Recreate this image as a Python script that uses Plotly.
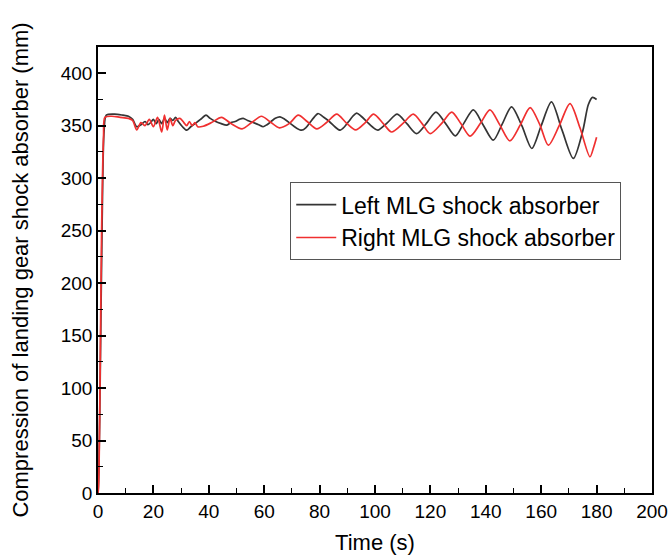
import plotly.graph_objects as go

# Left MLG shock absorber (black)
left_t = [0, 0.3, 0.8, 1.5, 2.2, 3, 6, 9, 11, 12.5, 14, 15.5, 17, 18, 19, 20, 21, 22, 23, 24,
          25, 26, 27, 28, 29, 30.5, 32, 33.5, 35.5, 37, 39, 40.5, 42.5, 44.5, 46.4, 48, 49.5,
          51, 52.4, 54, 56, 58, 59.6, 61, 62.5, 64, 65.7, 67.5, 69.5, 71.5, 73.5, 75, 76.5,
          78, 79.4, 81.5, 83.5, 85.5, 87.4, 89, 90.5, 92, 93.4, 95, 97, 99, 101, 104.5, 108,
          111.5, 115, 118.5, 122, 125.5, 129, 132, 135.5, 139, 142.7, 146, 149.3, 153, 156.6,
          160, 163.7, 167.5, 171.6, 175, 177, 178.5, 180]
left_v = [0, 20, 110, 260, 345, 360, 361, 360, 359, 356, 349, 351, 354, 351, 353, 356, 352,
          356, 352, 357, 353, 357, 355, 358, 354, 349, 345.7, 349, 353, 356, 360, 357, 354,
          352, 350.5, 353, 354, 356, 357, 355, 353, 351, 349, 351, 354, 357, 358.4, 356, 352,
          348, 345.7, 348, 353, 358, 361.6, 358, 354, 349, 345.7, 349, 354, 359, 362, 359,
          354, 349, 345.7, 353, 361, 352, 342.5, 352, 363, 352, 340.3, 352, 365, 351, 336.2,
          352, 368, 350, 328.3, 350, 372.7, 346, 318.8, 345, 370, 377, 375]

# Right MLG shock absorber (red)
right_t = [0, 0.2, 0.7, 1.3, 2.0, 2.5, 5, 8, 11, 12.5, 14, 15.5, 17, 18.5, 20, 21.5, 23,
           24, 25, 26, 27, 28, 29.6, 31, 32, 33, 34, 35, 36, 38, 41, 44.6, 48, 52, 55.5, 59,
           62, 65.5, 69, 72.3, 75.5, 79, 82.5, 86.2, 89.5, 93, 96.5, 99.5, 103, 106, 110,
           113.8, 117, 119.9, 124, 127.7, 131, 134.3, 138, 141.5, 145, 148.7, 152.5, 156,
           159.5, 162.6, 166.5, 170.4, 174, 177.6, 179, 180]
right_v = [0, 5, 95, 250, 340, 358, 359, 358, 357, 355, 346, 353, 350, 356, 349, 358, 344,
           360, 346, 357, 350, 355, 357, 353, 350, 354, 350, 353, 349, 349.5, 353, 358, 352,
           347, 353, 359, 354, 348, 352, 360, 354, 347, 353, 361, 353, 346, 353, 361, 352,
           344, 352, 361, 352, 342.5, 352, 363, 352, 340, 352, 365, 351, 335.5, 351, 367.3,
           351, 331.4, 350, 371, 348, 320.3, 330, 339]

x_ticks = [0, 20, 40, 60, 80, 100, 120, 140, 160, 180, 200]
y_ticks = [0, 50, 100, 150, 200, 250, 300, 350, 400]

fig = go.Figure()
fig.add_trace(go.Scatter(x=left_t, y=left_v, mode="lines", name="Left MLG shock absorber",
                         line=dict(color="#353535", width=1.7, shape="spline", smoothing=0.8)))
fig.add_trace(go.Scatter(x=right_t, y=right_v, mode="lines", name="Right MLG shock absorber",
                         line=dict(color="#F03030", width=1.7, shape="spline", smoothing=0.8)))

font = "Arial, Liberation Sans, sans-serif"

fig.update_xaxes(range=[0, 200], tickvals=x_ticks,
                 showline=True, linecolor="black", linewidth=1.5, mirror=True,
                 ticks="inside", ticklen=8, tickwidth=1.5, tickcolor="black",
                 showgrid=False, zeroline=False,
                 tickfont=dict(family=font, size=19, color="black"),
                 minor=dict(ticks="inside", ticklen=5, tickwidth=1.2, tickcolor="black", dtick=10),
                 title=dict(text="Time (s)", font=dict(family=font, size=22, color="black"), standoff=14),
                 automargin=False)
fig.update_yaxes(range=[0, 425], tickvals=y_ticks,
                 showline=True, linecolor="black", linewidth=1.5, mirror=True,
                 ticks="inside", ticklen=8, tickwidth=1.5, tickcolor="black",
                 showgrid=False, zeroline=False,
                 tickfont=dict(family=font, size=19, color="black"),
                 minor=dict(ticks="inside", ticklen=5, tickwidth=1.2, tickcolor="black", dtick=25),
                 title=dict(text="Compression of landing gear shock absorber (mm)",
                            font=dict(family=font, size=22, color="black"), standoff=26),
                 automargin=False)

fig.update_layout(
    width=668, height=557,
    margin=dict(l=98, r=16, t=47, b=64),
    paper_bgcolor="white", plot_bgcolor="white",
    showlegend=True,
    legend=dict(x=0.347, y=0.697, xanchor="left", yanchor="top",
                bgcolor="white", bordercolor="#555", borderwidth=1,
                font=dict(family=font, size=23, color="black"),
                tracegroupgap=0, itemwidth=40),
)

fig.write_html("out.html")
